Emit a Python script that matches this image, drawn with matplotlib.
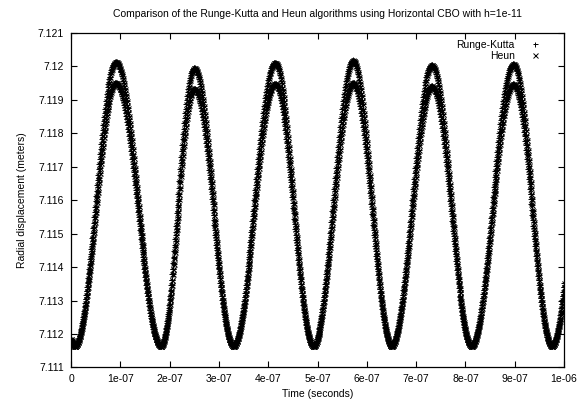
import numpy as np
import matplotlib
matplotlib.use("Agg")
import matplotlib.pyplot as plt

plt.rcParams["font.family"] = ["Liberation Sans", "DejaVu Sans"]

# --- extrema of the radial displacement (time in seconds, radius in meters) ---
# first and last peaks sit just outside the plotted time window
peak_t = [-0.72e-7, 0.91e-7, 2.50e-7, 4.135e-7, 5.72e-7, 7.32e-7, 8.97e-7, 10.55e-7]
outer_peak_r = [7.12010, 7.12012, 7.11994, 7.12010, 7.12017, 7.12003, 7.12006, 7.12010]
inner_peak_r = [7.11950, 7.11950, 7.11933, 7.11948, 7.11950, 7.11940, 7.11946, 7.11950]
trough_t = [0.08e-7, 1.82e-7, 3.29e-7, 4.91e-7, 6.50e-7, 8.12e-7, 9.75e-7]
trough_r = [7.11165, 7.11165, 7.11165, 7.11165, 7.11165, 7.11165, 7.11165]

# output step of the integrator log
t_start, t_end, t_out = 0.0, 1e-6, 1e-9

x_ticks = [0, 1e-7, 2e-7, 3e-7, 4e-7, 5e-7, 6e-7, 7e-7, 8e-7, 9e-7, 1e-6]
x_labels = ["0", "1e-07", "2e-07", "3e-07", "4e-07", "5e-07", "6e-07",
            "7e-07", "8e-07", "9e-07", "1e-06"]
y_ticks = [7.111, 7.112, 7.113, 7.114, 7.115, 7.116, 7.117, 7.118, 7.119, 7.12, 7.121]
y_labels = ["7.111", "7.112", "7.113", "7.114", "7.115", "7.116", "7.117",
            "7.118", "7.119", "7.12", "7.121"]


def trace(peaks):
    # alternate peaks and troughs, half-cosine swing between neighbours
    ext_t, ext_r = [], []
    for i in range(len(trough_t)):
        ext_t += [peak_t[i], trough_t[i]]
        ext_r += [peaks[i], trough_r[i]]
    ext_t.append(peak_t[-1])
    ext_r.append(peaks[-1])
    ext_t, ext_r = np.array(ext_t), np.array(ext_r)

    t = np.arange(t_start, t_end + t_out / 2, t_out)
    k = np.clip(np.searchsorted(ext_t, t) - 1, 0, len(ext_t) - 2)
    s = (t - ext_t[k]) / (ext_t[k + 1] - ext_t[k])
    r = ext_r[k] + (ext_r[k + 1] - ext_r[k]) * (1 - np.cos(np.pi * s)) / 2
    return t, r


t, r_outer = trace(outer_peak_r)
_, r_inner = trace(inner_peak_r)
tt = np.concatenate([t, t])
rr = np.concatenate([r_outer, r_inner])

fig = plt.figure(figsize=(5.86, 4.03), dpi=100)
ax = fig.add_axes([0.1212, 0.0881, 0.8413, 0.8308])

ax.plot(tt, rr, linestyle="none", marker="+", color="black",
        markersize=4.4, markeredgewidth=0.7, label="Runge-Kutta")
ax.plot(tt, rr, linestyle="none", marker="x", color="black",
        markersize=3.6, markeredgewidth=0.7, label="Heun")

ax.set_xlim(0, 1e-6)
ax.set_ylim(7.111, 7.121)
ax.set_xticks(x_ticks)
ax.set_xticklabels(x_labels)
ax.set_yticks(y_ticks)
ax.set_yticklabels(y_labels)
ax.tick_params(direction="in", top=True, right=True, length=4,
               width=0.8, labelsize=7.5, pad=5)
for sp in ax.spines.values():
    sp.set_linewidth(0.9)

ax.set_title("Comparison of the Runge-Kutta and Heun algorithms using Horizontal CBO with h=1e-11",
             fontsize=7.5, pad=11)
ax.set_xlabel("Time (seconds)", fontsize=7.5, labelpad=3)
ax.set_ylabel("Radial displacement (meters)", fontsize=7.5, labelpad=8)

leg = ax.legend(loc="upper right", bbox_to_anchor=(0.972, 1.0), frameon=False,
                markerfirst=False, fontsize=7.5, handlelength=1.5,
                handletextpad=1.2, labelspacing=0.1, borderaxespad=0.3)
for h in leg.legend_handles:
    h.set_markersize(3.6)

fig.savefig("out.png", dpi=100)
